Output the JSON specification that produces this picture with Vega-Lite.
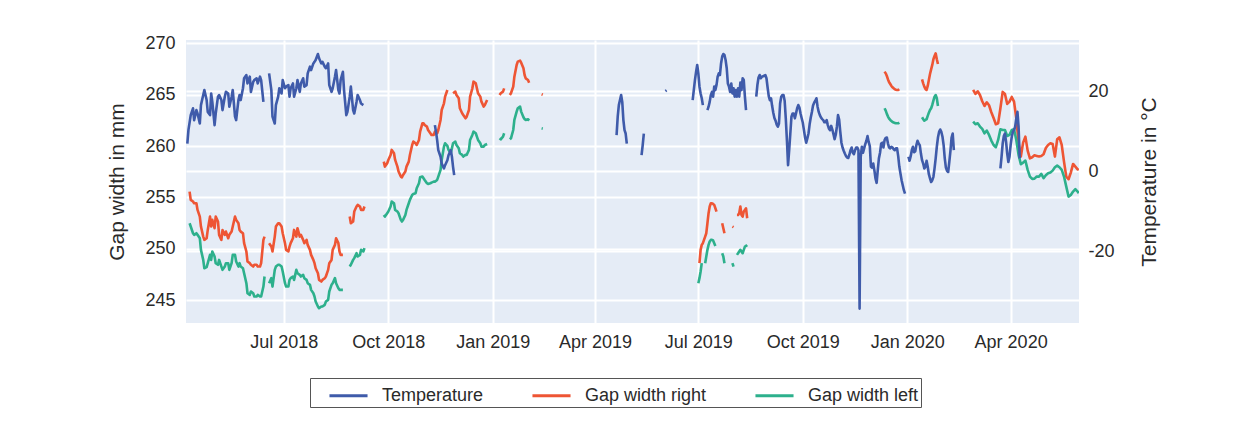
{
  "$schema": "https://vega.github.io/schema/vega-lite/v6.json",
  "width": 893,
  "height": 283,
  "autosize": {"type": "none"},
  "padding": {"left": 186, "top": 40, "right": 171, "bottom": 98},
  "background": "white",
  "config": {
    "view": {"fill": "#E5ECF6", "stroke": null},
    "font": "Liberation Sans",
    "axis": {
      "labelFont": "Liberation Sans", "titleFont": "Liberation Sans",
      "labelFontSize": 18, "titleFontSize": 21, "titleFontWeight": "normal",
      "labelColor": "#2a2a2a", "titleColor": "#2a2a2a",
      "domain": false, "ticks": false, "tickSize": 0,
      "gridColor": "#ffffff", "gridWidth": 2, "gridOpacity": 1
    },
    "legend": {
      "labelFont": "Liberation Sans", "labelFontSize": 18, "labelColor": "#2a2a2a",
      "titleFont": "Liberation Sans", "titleFontSize": 18,
      "strokeColor": "#555555", "padding": 2, "symbolType": "M-1.36,0H1.36",
      "symbolSize": 784, "symbolStrokeWidth": 3, "labelOffset": 18,
      "columnPadding": 42
    }
  },
  "datasets": {
    "temp": [
      {"s":"Temperature","g":1,"d":"2018-04-07","v":6.9},{"s":"Temperature","g":1,"d":"2018-04-08","v":10.3},{"s":"Temperature","g":1,"d":"2018-04-10","v":14.0},{"s":"Temperature","g":1,"d":"2018-04-12","v":15.7},{"s":"Temperature","g":1,"d":"2018-04-13","v":12.75},{"s":"Temperature","g":1,"d":"2018-04-15","v":15.25},{"s":"Temperature","g":1,"d":"2018-04-16","v":14.4},{"s":"Temperature","g":1,"d":"2018-04-18","v":11.9},{"s":"Temperature","g":1,"d":"2018-04-19","v":16.5},{"s":"Temperature","g":1,"d":"2018-04-21","v":19.0},{"s":"Temperature","g":1,"d":"2018-04-22","v":20.25},{"s":"Temperature","g":1,"d":"2018-04-24","v":17.75},{"s":"Temperature","g":1,"d":"2018-04-25","v":14.8},{"s":"Temperature","g":1,"d":"2018-04-27","v":14.0},{"s":"Temperature","g":1,"d":"2018-04-28","v":19.4},{"s":"Temperature","g":1,"d":"2018-04-29","v":17.3},{"s":"Temperature","g":1,"d":"2018-05-01","v":11.5},{"s":"Temperature","g":1,"d":"2018-05-02","v":14.4},{"s":"Temperature","g":1,"d":"2018-05-04","v":18.6},{"s":"Temperature","g":1,"d":"2018-05-05","v":19.0},{"s":"Temperature","g":1,"d":"2018-05-07","v":17.75},{"s":"Temperature","g":1,"d":"2018-05-08","v":15.25},{"s":"Temperature","g":1,"d":"2018-05-10","v":18.6},{"s":"Temperature","g":1,"d":"2018-05-11","v":19.8},{"s":"Temperature","g":1,"d":"2018-05-13","v":19.4},{"s":"Temperature","g":1,"d":"2018-05-14","v":16.1},{"s":"Temperature","g":1,"d":"2018-05-16","v":18.6},{"s":"Temperature","g":1,"d":"2018-05-17","v":20.25},{"s":"Temperature","g":1,"d":"2018-05-19","v":13.6},{"s":"Temperature","g":1,"d":"2018-05-20","v":12.75},{"s":"Temperature","g":1,"d":"2018-05-22","v":17.75},{"s":"Temperature","g":1,"d":"2018-05-23","v":19.0},{"s":"Temperature","g":1,"d":"2018-05-24","v":17.75},{"s":"Temperature","g":1,"d":"2018-05-26","v":20.7},{"s":"Temperature","g":1,"d":"2018-05-27","v":23.2},{"s":"Temperature","g":1,"d":"2018-05-29","v":24.0},{"s":"Temperature","g":1,"d":"2018-05-30","v":21.9},{"s":"Temperature","g":1,"d":"2018-06-01","v":23.6},{"s":"Temperature","g":1,"d":"2018-06-02","v":19.8},{"s":"Temperature","g":1,"d":"2018-06-04","v":22.3},{"s":"Temperature","g":1,"d":"2018-06-05","v":22.75},{"s":"Temperature","g":1,"d":"2018-06-07","v":23.2},{"s":"Temperature","g":1,"d":"2018-06-08","v":21.9},{"s":"Temperature","g":1,"d":"2018-06-10","v":23.6},{"s":"Temperature","g":1,"d":"2018-06-11","v":22.75},{"s":"Temperature","g":1,"d":"2018-06-13","v":17.3},
      {"s":"Temperature","g":2,"d":"2018-06-18","v":24.4},{"s":"Temperature","g":2,"d":"2018-06-20","v":20.25},{"s":"Temperature","g":2,"d":"2018-06-21","v":13.6},{"s":"Temperature","g":2,"d":"2018-06-23","v":11.9},{"s":"Temperature","g":2,"d":"2018-06-24","v":16.5},{"s":"Temperature","g":2,"d":"2018-06-26","v":18.6},{"s":"Temperature","g":2,"d":"2018-06-27","v":20.7},{"s":"Temperature","g":2,"d":"2018-06-29","v":19.4},{"s":"Temperature","g":2,"d":"2018-06-30","v":22.75},{"s":"Temperature","g":2,"d":"2018-07-02","v":20.7},{"s":"Temperature","g":2,"d":"2018-07-03","v":21.1},{"s":"Temperature","g":2,"d":"2018-07-05","v":21.5},{"s":"Temperature","g":2,"d":"2018-07-06","v":18.6},{"s":"Temperature","g":2,"d":"2018-07-07","v":20.7},{"s":"Temperature","g":2,"d":"2018-07-09","v":21.9},{"s":"Temperature","g":2,"d":"2018-07-10","v":18.6},{"s":"Temperature","g":2,"d":"2018-07-12","v":20.7},{"s":"Temperature","g":2,"d":"2018-07-13","v":22.75},{"s":"Temperature","g":2,"d":"2018-07-15","v":19.8},{"s":"Temperature","g":2,"d":"2018-07-16","v":21.9},{"s":"Temperature","g":2,"d":"2018-07-18","v":23.2},{"s":"Temperature","g":2,"d":"2018-07-19","v":21.1},{"s":"Temperature","g":2,"d":"2018-07-21","v":21.5},{"s":"Temperature","g":2,"d":"2018-07-22","v":24.4},{"s":"Temperature","g":2,"d":"2018-07-24","v":26.1},{"s":"Temperature","g":2,"d":"2018-07-25","v":25.25},{"s":"Temperature","g":2,"d":"2018-07-27","v":26.9},{"s":"Temperature","g":2,"d":"2018-07-28","v":27.3},{"s":"Temperature","g":2,"d":"2018-07-29","v":27.75},{"s":"Temperature","g":2,"d":"2018-07-31","v":29.25},{"s":"Temperature","g":2,"d":"2018-08-01","v":28.2},{"s":"Temperature","g":2,"d":"2018-08-03","v":26.9},{"s":"Temperature","g":2,"d":"2018-08-04","v":27.3},{"s":"Temperature","g":2,"d":"2018-08-06","v":26.1},{"s":"Temperature","g":2,"d":"2018-08-07","v":25.7},{"s":"Temperature","g":2,"d":"2018-08-09","v":26.9},{"s":"Temperature","g":2,"d":"2018-08-10","v":21.5},{"s":"Temperature","g":2,"d":"2018-08-12","v":19.8},{"s":"Temperature","g":2,"d":"2018-08-13","v":20.7},{"s":"Temperature","g":2,"d":"2018-08-15","v":23.6},{"s":"Temperature","g":2,"d":"2018-08-16","v":25.25},{"s":"Temperature","g":2,"d":"2018-08-18","v":20.25},{"s":"Temperature","g":2,"d":"2018-08-19","v":19.4},{"s":"Temperature","g":2,"d":"2018-08-20","v":22.75},{"s":"Temperature","g":2,"d":"2018-08-22","v":24.8},{"s":"Temperature","g":2,"d":"2018-08-23","v":20.25},{"s":"Temperature","g":2,"d":"2018-08-25","v":14.0},{"s":"Temperature","g":2,"d":"2018-08-26","v":14.8},{"s":"Temperature","g":2,"d":"2018-08-28","v":18.6},{"s":"Temperature","g":2,"d":"2018-08-29","v":21.1},{"s":"Temperature","g":2,"d":"2018-08-31","v":15.25},{"s":"Temperature","g":2,"d":"2018-09-01","v":14.4},{"s":"Temperature","g":2,"d":"2018-09-03","v":17.3},{"s":"Temperature","g":2,"d":"2018-09-04","v":19.0},{"s":"Temperature","g":2,"d":"2018-09-06","v":17.75},{"s":"Temperature","g":2,"d":"2018-09-07","v":16.9},{"s":"Temperature","g":2,"d":"2018-09-09","v":16.5},
      {"s":"Temperature","g":3,"d":"2018-11-11","v":11.5},{"s":"Temperature","g":3,"d":"2018-11-12","v":9.8},{"s":"Temperature","g":3,"d":"2018-11-13","v":7.75},{"s":"Temperature","g":3,"d":"2018-11-14","v":5.25},{"s":"Temperature","g":3,"d":"2018-11-16","v":3.6},{"s":"Temperature","g":3,"d":"2018-11-17","v":1.9},{"s":"Temperature","g":3,"d":"2018-11-19","v":0.7},{"s":"Temperature","g":3,"d":"2018-11-20","v":1.5},{"s":"Temperature","g":3,"d":"2018-11-22","v":2.75},{"s":"Temperature","g":3,"d":"2018-11-23","v":4.0},{"s":"Temperature","g":3,"d":"2018-11-25","v":5.25},{"s":"Temperature","g":3,"d":"2018-11-26","v":3.6},{"s":"Temperature","g":3,"d":"2018-11-27","v":1.1},{"s":"Temperature","g":3,"d":"2018-11-28","v":-1.0},
      {"s":"Temperature","g":4,"d":"2019-04-20","v":9.0},{"s":"Temperature","g":4,"d":"2019-04-21","v":13.6},{"s":"Temperature","g":4,"d":"2019-04-22","v":16.5},{"s":"Temperature","g":4,"d":"2019-04-23","v":17.75},{"s":"Temperature","g":4,"d":"2019-04-24","v":19.0},{"s":"Temperature","g":4,"d":"2019-04-25","v":17.3},{"s":"Temperature","g":4,"d":"2019-04-26","v":12.75},{"s":"Temperature","g":4,"d":"2019-04-27","v":10.25},{"s":"Temperature","g":4,"d":"2019-04-28","v":9.4},{"s":"Temperature","g":4,"d":"2019-04-29","v":6.9},
      {"s":"Temperature","g":5,"d":"2019-05-12","v":4.0},{"s":"Temperature","g":5,"d":"2019-05-13","v":6.5},{"s":"Temperature","g":5,"d":"2019-05-14","v":9.4},
      {"s":"Temperature","g":6,"d":"2019-06-02","v":20.0},{"s":"Temperature","g":6,"d":"2019-06-03","v":20.2},
      {"s":"Temperature","g":7,"d":"2019-06-26","v":17.75},{"s":"Temperature","g":7,"d":"2019-06-27","v":20.25},{"s":"Temperature","g":7,"d":"2019-06-28","v":22.75},{"s":"Temperature","g":7,"d":"2019-06-29","v":24.8},{"s":"Temperature","g":7,"d":"2019-06-30","v":26.5},{"s":"Temperature","g":7,"d":"2019-07-01","v":24.4},{"s":"Temperature","g":7,"d":"2019-07-02","v":21.1},{"s":"Temperature","g":7,"d":"2019-07-03","v":19.4},{"s":"Temperature","g":7,"d":"2019-07-04","v":18.2},{"s":"Temperature","g":7,"d":"2019-07-05","v":16.5},
      {"s":"Temperature","g":8,"d":"2019-07-09","v":15.25},{"s":"Temperature","g":8,"d":"2019-07-10","v":16.1},{"s":"Temperature","g":8,"d":"2019-07-11","v":17.3},{"s":"Temperature","g":8,"d":"2019-07-12","v":19.0},{"s":"Temperature","g":8,"d":"2019-07-13","v":19.8},{"s":"Temperature","g":8,"d":"2019-07-14","v":18.6},{"s":"Temperature","g":8,"d":"2019-07-15","v":21.1},{"s":"Temperature","g":8,"d":"2019-07-16","v":20.25},{"s":"Temperature","g":8,"d":"2019-07-17","v":21.5},{"s":"Temperature","g":8,"d":"2019-07-18","v":23.6},{"s":"Temperature","g":8,"d":"2019-07-19","v":24.4},{"s":"Temperature","g":8,"d":"2019-07-20","v":24.0},{"s":"Temperature","g":8,"d":"2019-07-21","v":26.9},{"s":"Temperature","g":8,"d":"2019-07-22","v":28.6},{"s":"Temperature","g":8,"d":"2019-07-23","v":29.25},{"s":"Temperature","g":8,"d":"2019-07-24","v":29.0},{"s":"Temperature","g":8,"d":"2019-07-25","v":27.75},{"s":"Temperature","g":8,"d":"2019-07-26","v":25.7},{"s":"Temperature","g":8,"d":"2019-07-27","v":21.9},{"s":"Temperature","g":8,"d":"2019-07-28","v":21.1},{"s":"Temperature","g":8,"d":"2019-07-29","v":19.8},{"s":"Temperature","g":8,"d":"2019-07-30","v":21.9},{"s":"Temperature","g":8,"d":"2019-07-31","v":19.4},{"s":"Temperature","g":8,"d":"2019-08-01","v":20.7},{"s":"Temperature","g":8,"d":"2019-08-02","v":18.6},{"s":"Temperature","g":8,"d":"2019-08-03","v":20.25},{"s":"Temperature","g":8,"d":"2019-08-04","v":18.6},{"s":"Temperature","g":8,"d":"2019-08-05","v":20.7},{"s":"Temperature","g":8,"d":"2019-08-06","v":18.6},{"s":"Temperature","g":8,"d":"2019-08-07","v":22.1},{"s":"Temperature","g":8,"d":"2019-08-08","v":20.25},{"s":"Temperature","g":8,"d":"2019-08-09","v":23.2},{"s":"Temperature","g":8,"d":"2019-08-10","v":22.75},{"s":"Temperature","g":8,"d":"2019-08-11","v":18.6},{"s":"Temperature","g":8,"d":"2019-08-12","v":15.25},
      {"s":"Temperature","g":9,"d":"2019-08-21","v":18.6},{"s":"Temperature","g":9,"d":"2019-08-22","v":21.5},{"s":"Temperature","g":9,"d":"2019-08-23","v":23.4},{"s":"Temperature","g":9,"d":"2019-08-24","v":24.0},{"s":"Temperature","g":9,"d":"2019-08-25","v":23.2},{"s":"Temperature","g":9,"d":"2019-08-26","v":23.6},{"s":"Temperature","g":9,"d":"2019-08-27","v":23.7},{"s":"Temperature","g":9,"d":"2019-08-28","v":23.8},{"s":"Temperature","g":9,"d":"2019-08-29","v":24.0},{"s":"Temperature","g":9,"d":"2019-08-30","v":23.2},{"s":"Temperature","g":9,"d":"2019-08-31","v":20.9},{"s":"Temperature","g":9,"d":"2019-09-01","v":18.75},{"s":"Temperature","g":9,"d":"2019-09-02","v":17.75},{"s":"Temperature","g":9,"d":"2019-09-03","v":18.2},{"s":"Temperature","g":9,"d":"2019-09-04","v":16.25},{"s":"Temperature","g":9,"d":"2019-09-05","v":14.6},{"s":"Temperature","g":9,"d":"2019-09-06","v":13.3},{"s":"Temperature","g":9,"d":"2019-09-07","v":12.6},{"s":"Temperature","g":9,"d":"2019-09-08","v":11.6},{"s":"Temperature","g":9,"d":"2019-09-09","v":11.1},{"s":"Temperature","g":9,"d":"2019-09-10","v":11.9},{"s":"Temperature","g":9,"d":"2019-09-11","v":16.9},{"s":"Temperature","g":9,"d":"2019-09-12","v":18.6},{"s":"Temperature","g":9,"d":"2019-09-13","v":19.0},{"s":"Temperature","g":9,"d":"2019-09-14","v":19.0},{"s":"Temperature","g":9,"d":"2019-09-15","v":17.6},{"s":"Temperature","g":9,"d":"2019-09-16","v":13.2},{"s":"Temperature","g":9,"d":"2019-09-17","v":7.75},{"s":"Temperature","g":9,"d":"2019-09-18","v":1.5},{"s":"Temperature","g":9,"d":"2019-09-19","v":5.25},{"s":"Temperature","g":9,"d":"2019-09-20","v":9.4},{"s":"Temperature","g":9,"d":"2019-09-21","v":13.6},{"s":"Temperature","g":9,"d":"2019-09-22","v":14.4},{"s":"Temperature","g":9,"d":"2019-09-23","v":14.4},{"s":"Temperature","g":9,"d":"2019-09-24","v":13.2},{"s":"Temperature","g":9,"d":"2019-09-25","v":14.4},{"s":"Temperature","g":9,"d":"2019-09-26","v":15.7},{"s":"Temperature","g":9,"d":"2019-09-27","v":16.5},{"s":"Temperature","g":9,"d":"2019-09-28","v":15.9},{"s":"Temperature","g":9,"d":"2019-09-29","v":14.4},{"s":"Temperature","g":9,"d":"2019-09-30","v":13.2},{"s":"Temperature","g":9,"d":"2019-10-01","v":12.1},{"s":"Temperature","g":9,"d":"2019-10-02","v":10.25},{"s":"Temperature","g":9,"d":"2019-10-03","v":8.4},{"s":"Temperature","g":9,"d":"2019-10-04","v":7.1},{"s":"Temperature","g":9,"d":"2019-10-05","v":8.2},{"s":"Temperature","g":9,"d":"2019-10-06","v":9.4},{"s":"Temperature","g":9,"d":"2019-10-07","v":11.7},{"s":"Temperature","g":9,"d":"2019-10-08","v":13.4},{"s":"Temperature","g":9,"d":"2019-10-09","v":14.8},{"s":"Temperature","g":9,"d":"2019-10-10","v":16.4},{"s":"Temperature","g":9,"d":"2019-10-11","v":17.1},{"s":"Temperature","g":9,"d":"2019-10-12","v":17.6},{"s":"Temperature","g":9,"d":"2019-10-13","v":18.2},{"s":"Temperature","g":9,"d":"2019-10-14","v":16.1},{"s":"Temperature","g":9,"d":"2019-10-15","v":14.8},{"s":"Temperature","g":9,"d":"2019-10-16","v":14.0},{"s":"Temperature","g":9,"d":"2019-10-17","v":13.4},{"s":"Temperature","g":9,"d":"2019-10-18","v":13.0},{"s":"Temperature","g":9,"d":"2019-10-19","v":12.75},{"s":"Temperature","g":9,"d":"2019-10-20","v":12.2},{"s":"Temperature","g":9,"d":"2019-10-21","v":12.25},{"s":"Temperature","g":9,"d":"2019-10-22","v":12.75},{"s":"Temperature","g":9,"d":"2019-10-23","v":11.5},{"s":"Temperature","g":9,"d":"2019-10-24","v":10.6},{"s":"Temperature","g":9,"d":"2019-10-25","v":10.25},{"s":"Temperature","g":9,"d":"2019-10-26","v":11.3},{"s":"Temperature","g":9,"d":"2019-10-27","v":10.4},{"s":"Temperature","g":9,"d":"2019-10-28","v":9.25},{"s":"Temperature","g":9,"d":"2019-10-29","v":8.0},{"s":"Temperature","g":9,"d":"2019-10-30","v":9.1},{"s":"Temperature","g":9,"d":"2019-10-31","v":11.1},{"s":"Temperature","g":9,"d":"2019-11-01","v":14.0},{"s":"Temperature","g":9,"d":"2019-11-02","v":12.9},{"s":"Temperature","g":9,"d":"2019-11-03","v":9.8},{"s":"Temperature","g":9,"d":"2019-11-04","v":7.1},{"s":"Temperature","g":9,"d":"2019-11-05","v":5.9},{"s":"Temperature","g":9,"d":"2019-11-06","v":5.1},{"s":"Temperature","g":9,"d":"2019-11-07","v":4.4},{"s":"Temperature","g":9,"d":"2019-11-08","v":3.8},{"s":"Temperature","g":9,"d":"2019-11-09","v":3.4},{"s":"Temperature","g":9,"d":"2019-11-10","v":3.3},{"s":"Temperature","g":9,"d":"2019-11-11","v":4.1},{"s":"Temperature","g":9,"d":"2019-11-12","v":5.25},{"s":"Temperature","g":9,"d":"2019-11-13","v":5.9},{"s":"Temperature","g":9,"d":"2019-11-14","v":4.6},{"s":"Temperature","g":9,"d":"2019-11-15","v":4.25},{"s":"Temperature","g":9,"d":"2019-11-16","v":5.25},{"s":"Temperature","g":9,"d":"2019-11-17","v":5.9},{"s":"Temperature","g":9,"d":"2019-11-18","v":5.9},{"s":"Temperature","g":9,"d":"2019-11-19","v":5.25},{"s":"Temperature","g":9,"d":"2019-11-20","v":-34.3},{"s":"Temperature","g":9,"d":"2019-11-21","v":3.6},{"s":"Temperature","g":9,"d":"2019-11-22","v":6.1},{"s":"Temperature","g":9,"d":"2019-11-23","v":4.6},{"s":"Temperature","g":9,"d":"2019-11-24","v":5.7},{"s":"Temperature","g":9,"d":"2019-11-25","v":6.75},{"s":"Temperature","g":9,"d":"2019-11-26","v":7.6},{"s":"Temperature","g":9,"d":"2019-11-27","v":8.75},{"s":"Temperature","g":9,"d":"2019-11-28","v":7.3},{"s":"Temperature","g":9,"d":"2019-11-29","v":6.25},{"s":"Temperature","g":9,"d":"2019-11-30","v":1.1},{"s":"Temperature","g":9,"d":"2019-12-01","v":0.9},{"s":"Temperature","g":9,"d":"2019-12-02","v":1.9},{"s":"Temperature","g":9,"d":"2019-12-03","v":0.25},{"s":"Temperature","g":9,"d":"2019-12-04","v":-1.8},{"s":"Temperature","g":9,"d":"2019-12-05","v":-2.9},{"s":"Temperature","g":9,"d":"2019-12-06","v":0.25},{"s":"Temperature","g":9,"d":"2019-12-07","v":3.2},{"s":"Temperature","g":9,"d":"2019-12-08","v":4.6},{"s":"Temperature","g":9,"d":"2019-12-09","v":6.9},{"s":"Temperature","g":9,"d":"2019-12-10","v":7.1},{"s":"Temperature","g":9,"d":"2019-12-11","v":5.9},{"s":"Temperature","g":9,"d":"2019-12-12","v":7.75},{"s":"Temperature","g":9,"d":"2019-12-13","v":8.3},{"s":"Temperature","g":9,"d":"2019-12-14","v":8.4},{"s":"Temperature","g":9,"d":"2019-12-15","v":6.9},{"s":"Temperature","g":9,"d":"2019-12-16","v":5.9},{"s":"Temperature","g":9,"d":"2019-12-17","v":5.7},{"s":"Temperature","g":9,"d":"2019-12-18","v":6.1},{"s":"Temperature","g":9,"d":"2019-12-19","v":5.9},{"s":"Temperature","g":9,"d":"2019-12-20","v":5.5},{"s":"Temperature","g":9,"d":"2019-12-21","v":5.25},{"s":"Temperature","g":9,"d":"2019-12-22","v":5.7},{"s":"Temperature","g":9,"d":"2019-12-23","v":5.7},{"s":"Temperature","g":9,"d":"2019-12-24","v":3.75},{"s":"Temperature","g":9,"d":"2019-12-25","v":1.1},{"s":"Temperature","g":9,"d":"2019-12-26","v":-0.6},{"s":"Temperature","g":9,"d":"2019-12-27","v":-2.25},{"s":"Temperature","g":9,"d":"2019-12-28","v":-3.5},{"s":"Temperature","g":9,"d":"2019-12-29","v":-4.75},{"s":"Temperature","g":9,"d":"2019-12-30","v":-5.6},
      {"s":"Temperature","g":10,"d":"2020-01-02","v":3.6},{"s":"Temperature","g":10,"d":"2020-01-03","v":2.6},{"s":"Temperature","g":10,"d":"2020-01-04","v":3.75},{"s":"Temperature","g":10,"d":"2020-01-05","v":5.25},{"s":"Temperature","g":10,"d":"2020-01-06","v":6.1},{"s":"Temperature","g":10,"d":"2020-01-07","v":4.75},{"s":"Temperature","g":10,"d":"2020-01-08","v":5.0},{"s":"Temperature","g":10,"d":"2020-01-09","v":6.5},{"s":"Temperature","g":10,"d":"2020-01-10","v":7.6},{"s":"Temperature","g":10,"d":"2020-01-11","v":6.9},{"s":"Temperature","g":10,"d":"2020-01-12","v":6.5},{"s":"Temperature","g":10,"d":"2020-01-13","v":4.4},{"s":"Temperature","g":10,"d":"2020-01-14","v":2.75},{"s":"Temperature","g":10,"d":"2020-01-15","v":1.9},{"s":"Temperature","g":10,"d":"2020-01-16","v":0.7},{"s":"Temperature","g":10,"d":"2020-01-17","v":1.1},{"s":"Temperature","g":10,"d":"2020-01-18","v":2.6},{"s":"Temperature","g":10,"d":"2020-01-19","v":1.1},{"s":"Temperature","g":10,"d":"2020-01-20","v":-0.75},{"s":"Temperature","g":10,"d":"2020-01-21","v":-1.8},{"s":"Temperature","g":10,"d":"2020-01-22","v":-2.7},{"s":"Temperature","g":10,"d":"2020-01-23","v":-2.25},{"s":"Temperature","g":10,"d":"2020-01-24","v":-1.4},{"s":"Temperature","g":10,"d":"2020-01-25","v":0.7},{"s":"Temperature","g":10,"d":"2020-01-26","v":3.2},{"s":"Temperature","g":10,"d":"2020-01-27","v":6.1},{"s":"Temperature","g":10,"d":"2020-01-28","v":8.4},{"s":"Temperature","g":10,"d":"2020-01-29","v":9.8},{"s":"Temperature","g":10,"d":"2020-01-30","v":10.4},{"s":"Temperature","g":10,"d":"2020-01-31","v":9.8},{"s":"Temperature","g":10,"d":"2020-02-01","v":8.6},{"s":"Temperature","g":10,"d":"2020-02-02","v":6.5},{"s":"Temperature","g":10,"d":"2020-02-03","v":3.2},{"s":"Temperature","g":10,"d":"2020-02-04","v":0.9},{"s":"Temperature","g":10,"d":"2020-02-05","v":0.1},{"s":"Temperature","g":10,"d":"2020-02-06","v":-0.2},{"s":"Temperature","g":10,"d":"2020-02-07","v":2.3},{"s":"Temperature","g":10,"d":"2020-02-08","v":5.1},{"s":"Temperature","g":10,"d":"2020-02-09","v":8.4},{"s":"Temperature","g":10,"d":"2020-02-10","v":9.4},{"s":"Temperature","g":10,"d":"2020-02-11","v":5.25},
      {"s":"Temperature","g":11,"d":"2020-03-23","v":0.7},{"s":"Temperature","g":11,"d":"2020-03-24","v":3.6},{"s":"Temperature","g":11,"d":"2020-03-25","v":6.9},{"s":"Temperature","g":11,"d":"2020-03-26","v":8.75},{"s":"Temperature","g":11,"d":"2020-03-27","v":9.4},{"s":"Temperature","g":11,"d":"2020-03-28","v":7.3},{"s":"Temperature","g":11,"d":"2020-03-29","v":4.4},{"s":"Temperature","g":11,"d":"2020-03-30","v":2.3},{"s":"Temperature","g":11,"d":"2020-03-31","v":3.6},{"s":"Temperature","g":11,"d":"2020-04-01","v":6.5},{"s":"Temperature","g":11,"d":"2020-04-02","v":8.6},{"s":"Temperature","g":11,"d":"2020-04-03","v":9.8},{"s":"Temperature","g":11,"d":"2020-04-04","v":10.25},{"s":"Temperature","g":11,"d":"2020-04-05","v":11.1},{"s":"Temperature","g":11,"d":"2020-04-06","v":13.2},{"s":"Temperature","g":11,"d":"2020-04-07","v":14.8},{"s":"Temperature","g":11,"d":"2020-04-08","v":11.1},{"s":"Temperature","g":11,"d":"2020-04-09","v":3.2}
    ],
    "gap": [
      {"s":"Gap width right","g":1,"d":"2018-04-09","v":255.57},{"s":"Gap width right","g":1,"d":"2018-04-10","v":254.76},{"s":"Gap width right","g":1,"d":"2018-04-12","v":254.6},{"s":"Gap width right","g":1,"d":"2018-04-13","v":254.43},{"s":"Gap width right","g":1,"d":"2018-04-15","v":254.43},{"s":"Gap width right","g":1,"d":"2018-04-16","v":253.78},{"s":"Gap width right","g":1,"d":"2018-04-18","v":253.13},{"s":"Gap width right","g":1,"d":"2018-04-19","v":252.16},{"s":"Gap width right","g":1,"d":"2018-04-21","v":251.18},{"s":"Gap width right","g":1,"d":"2018-04-22","v":250.86},{"s":"Gap width right","g":1,"d":"2018-04-24","v":251.02},{"s":"Gap width right","g":1,"d":"2018-04-25","v":251.83},{"s":"Gap width right","g":1,"d":"2018-04-27","v":253.13},{"s":"Gap width right","g":1,"d":"2018-04-28","v":252.16},{"s":"Gap width right","g":1,"d":"2018-04-29","v":252.81},{"s":"Gap width right","g":1,"d":"2018-05-01","v":252.0},{"s":"Gap width right","g":1,"d":"2018-05-02","v":253.13},{"s":"Gap width right","g":1,"d":"2018-05-04","v":252.65},{"s":"Gap width right","g":1,"d":"2018-05-05","v":251.35},{"s":"Gap width right","g":1,"d":"2018-05-07","v":250.86},{"s":"Gap width right","g":1,"d":"2018-05-08","v":251.83},{"s":"Gap width right","g":1,"d":"2018-05-10","v":251.35},{"s":"Gap width right","g":1,"d":"2018-05-11","v":251.67},{"s":"Gap width right","g":1,"d":"2018-05-13","v":251.02},{"s":"Gap width right","g":1,"d":"2018-05-14","v":251.35},{"s":"Gap width right","g":1,"d":"2018-05-16","v":251.67},{"s":"Gap width right","g":1,"d":"2018-05-17","v":252.16},{"s":"Gap width right","g":1,"d":"2018-05-19","v":253.13},{"s":"Gap width right","g":1,"d":"2018-05-20","v":252.81},{"s":"Gap width right","g":1,"d":"2018-05-22","v":252.48},{"s":"Gap width right","g":1,"d":"2018-05-23","v":251.83},{"s":"Gap width right","g":1,"d":"2018-05-24","v":251.67},{"s":"Gap width right","g":1,"d":"2018-05-26","v":251.51},{"s":"Gap width right","g":1,"d":"2018-05-27","v":250.54},{"s":"Gap width right","g":1,"d":"2018-05-29","v":249.73},{"s":"Gap width right","g":1,"d":"2018-05-30","v":248.75},{"s":"Gap width right","g":1,"d":"2018-06-01","v":248.59},{"s":"Gap width right","g":1,"d":"2018-06-02","v":248.43},{"s":"Gap width right","g":1,"d":"2018-06-04","v":248.26},{"s":"Gap width right","g":1,"d":"2018-06-05","v":248.43},{"s":"Gap width right","g":1,"d":"2018-06-07","v":248.43},{"s":"Gap width right","g":1,"d":"2018-06-08","v":248.26},{"s":"Gap width right","g":1,"d":"2018-06-10","v":248.26},{"s":"Gap width right","g":1,"d":"2018-06-11","v":248.59},{"s":"Gap width right","g":1,"d":"2018-06-13","v":250.86},{"s":"Gap width right","g":1,"d":"2018-06-14","v":251.18},
      {"s":"Gap width right","g":2,"d":"2018-06-18","v":250.54},{"s":"Gap width right","g":2,"d":"2018-06-20","v":250.21},{"s":"Gap width right","g":2,"d":"2018-06-21","v":249.73},{"s":"Gap width right","g":2,"d":"2018-06-23","v":251.18},{"s":"Gap width right","g":2,"d":"2018-06-24","v":252.16},{"s":"Gap width right","g":2,"d":"2018-06-26","v":252.48},{"s":"Gap width right","g":2,"d":"2018-06-27","v":252.48},{"s":"Gap width right","g":2,"d":"2018-06-29","v":252.16},{"s":"Gap width right","g":2,"d":"2018-06-30","v":251.51},{"s":"Gap width right","g":2,"d":"2018-07-02","v":250.54},{"s":"Gap width right","g":2,"d":"2018-07-03","v":249.89},{"s":"Gap width right","g":2,"d":"2018-07-05","v":249.73},{"s":"Gap width right","g":2,"d":"2018-07-06","v":250.21},{"s":"Gap width right","g":2,"d":"2018-07-07","v":250.54},{"s":"Gap width right","g":2,"d":"2018-07-09","v":251.02},{"s":"Gap width right","g":2,"d":"2018-07-10","v":251.83},{"s":"Gap width right","g":2,"d":"2018-07-12","v":251.18},{"s":"Gap width right","g":2,"d":"2018-07-13","v":252.0},{"s":"Gap width right","g":2,"d":"2018-07-15","v":251.18},{"s":"Gap width right","g":2,"d":"2018-07-16","v":251.35},{"s":"Gap width right","g":2,"d":"2018-07-18","v":250.86},{"s":"Gap width right","g":2,"d":"2018-07-19","v":250.54},{"s":"Gap width right","g":2,"d":"2018-07-21","v":250.86},{"s":"Gap width right","g":2,"d":"2018-07-22","v":250.37},{"s":"Gap width right","g":2,"d":"2018-07-24","v":249.89},{"s":"Gap width right","g":2,"d":"2018-07-25","v":249.4},{"s":"Gap width right","g":2,"d":"2018-07-27","v":248.91},{"s":"Gap width right","g":2,"d":"2018-07-28","v":248.59},{"s":"Gap width right","g":2,"d":"2018-07-29","v":248.1},{"s":"Gap width right","g":2,"d":"2018-07-31","v":247.61},{"s":"Gap width right","g":2,"d":"2018-08-01","v":246.96},{"s":"Gap width right","g":2,"d":"2018-08-03","v":246.8},{"s":"Gap width right","g":2,"d":"2018-08-04","v":246.96},{"s":"Gap width right","g":2,"d":"2018-08-06","v":247.13},{"s":"Gap width right","g":2,"d":"2018-08-07","v":247.29},{"s":"Gap width right","g":2,"d":"2018-08-09","v":247.94},{"s":"Gap width right","g":2,"d":"2018-08-10","v":248.59},{"s":"Gap width right","g":2,"d":"2018-08-12","v":248.91},{"s":"Gap width right","g":2,"d":"2018-08-13","v":249.89},{"s":"Gap width right","g":2,"d":"2018-08-15","v":250.37},{"s":"Gap width right","g":2,"d":"2018-08-16","v":251.02},{"s":"Gap width right","g":2,"d":"2018-08-18","v":250.54},{"s":"Gap width right","g":2,"d":"2018-08-19","v":249.73},{"s":"Gap width right","g":2,"d":"2018-08-20","v":249.4},{"s":"Gap width right","g":2,"d":"2018-08-22","v":249.4},
      {"s":"Gap width right","g":3,"d":"2018-08-28","v":253.13},{"s":"Gap width right","g":3,"d":"2018-08-29","v":252.48},{"s":"Gap width right","g":3,"d":"2018-08-31","v":252.65},{"s":"Gap width right","g":3,"d":"2018-09-01","v":253.62},{"s":"Gap width right","g":3,"d":"2018-09-03","v":254.11},{"s":"Gap width right","g":3,"d":"2018-09-04","v":254.27},{"s":"Gap width right","g":3,"d":"2018-09-06","v":254.11},{"s":"Gap width right","g":3,"d":"2018-09-07","v":253.78},{"s":"Gap width right","g":3,"d":"2018-09-09","v":253.78},{"s":"Gap width right","g":3,"d":"2018-09-10","v":254.11},
      {"s":"Gap width right","g":4,"d":"2018-09-27","v":258.49},{"s":"Gap width right","g":4,"d":"2018-09-28","v":258.0},{"s":"Gap width right","g":4,"d":"2018-09-30","v":258.33},{"s":"Gap width right","g":4,"d":"2018-10-01","v":258.65},{"s":"Gap width right","g":4,"d":"2018-10-03","v":259.14},{"s":"Gap width right","g":4,"d":"2018-10-04","v":259.63},{"s":"Gap width right","g":4,"d":"2018-10-06","v":259.3},{"s":"Gap width right","g":4,"d":"2018-10-07","v":258.65},{"s":"Gap width right","g":4,"d":"2018-10-09","v":258.0},{"s":"Gap width right","g":4,"d":"2018-10-10","v":257.52},{"s":"Gap width right","g":4,"d":"2018-10-12","v":257.03},{"s":"Gap width right","g":4,"d":"2018-10-13","v":256.96},{"s":"Gap width right","g":4,"d":"2018-10-14","v":257.19},{"s":"Gap width right","g":4,"d":"2018-10-16","v":257.52},{"s":"Gap width right","g":4,"d":"2018-10-17","v":258.0},{"s":"Gap width right","g":4,"d":"2018-10-19","v":258.49},{"s":"Gap width right","g":4,"d":"2018-10-20","v":259.14},{"s":"Gap width right","g":4,"d":"2018-10-22","v":260.11},{"s":"Gap width right","g":4,"d":"2018-10-23","v":260.44},{"s":"Gap width right","g":4,"d":"2018-10-25","v":260.28},{"s":"Gap width right","g":4,"d":"2018-10-26","v":260.11},{"s":"Gap width right","g":4,"d":"2018-10-28","v":260.6},{"s":"Gap width right","g":4,"d":"2018-10-29","v":261.41},{"s":"Gap width right","g":4,"d":"2018-10-31","v":262.22},{"s":"Gap width right","g":4,"d":"2018-11-01","v":262.22},{"s":"Gap width right","g":4,"d":"2018-11-02","v":262.06},{"s":"Gap width right","g":4,"d":"2018-11-04","v":261.9},{"s":"Gap width right","g":4,"d":"2018-11-05","v":261.57},{"s":"Gap width right","g":4,"d":"2018-11-07","v":261.25},{"s":"Gap width right","g":4,"d":"2018-11-08","v":261.09},{"s":"Gap width right","g":4,"d":"2018-11-10","v":261.09},{"s":"Gap width right","g":4,"d":"2018-11-11","v":261.41},{"s":"Gap width right","g":4,"d":"2018-11-13","v":261.25},{"s":"Gap width right","g":4,"d":"2018-11-14","v":261.57},{"s":"Gap width right","g":4,"d":"2018-11-16","v":262.55},{"s":"Gap width right","g":4,"d":"2018-11-17","v":263.52},{"s":"Gap width right","g":4,"d":"2018-11-19","v":264.17},{"s":"Gap width right","g":4,"d":"2018-11-20","v":264.82},{"s":"Gap width right","g":4,"d":"2018-11-22","v":265.47},
      {"s":"Gap width right","g":5,"d":"2018-11-27","v":265.15},{"s":"Gap width right","g":5,"d":"2018-11-29","v":265.31},{"s":"Gap width right","g":5,"d":"2018-11-30","v":264.98},{"s":"Gap width right","g":5,"d":"2018-12-02","v":264.66},{"s":"Gap width right","g":5,"d":"2018-12-03","v":263.69},{"s":"Gap width right","g":5,"d":"2018-12-05","v":263.2},{"s":"Gap width right","g":5,"d":"2018-12-06","v":263.04},{"s":"Gap width right","g":5,"d":"2018-12-08","v":262.71},{"s":"Gap width right","g":5,"d":"2018-12-09","v":262.87},{"s":"Gap width right","g":5,"d":"2018-12-11","v":263.52},{"s":"Gap width right","g":5,"d":"2018-12-12","v":264.82},{"s":"Gap width right","g":5,"d":"2018-12-14","v":265.63},{"s":"Gap width right","g":5,"d":"2018-12-15","v":266.28},{"s":"Gap width right","g":5,"d":"2018-12-17","v":266.12},{"s":"Gap width right","g":5,"d":"2018-12-18","v":265.63},{"s":"Gap width right","g":5,"d":"2018-12-19","v":265.15},{"s":"Gap width right","g":5,"d":"2018-12-21","v":264.82},{"s":"Gap width right","g":5,"d":"2018-12-22","v":264.33},{"s":"Gap width right","g":5,"d":"2018-12-24","v":263.85},{"s":"Gap width right","g":5,"d":"2018-12-25","v":264.0},{"s":"Gap width right","g":5,"d":"2018-12-27","v":264.5},
      {"s":"Gap width right","g":6,"d":"2019-01-07","v":264.98},{"s":"Gap width right","g":6,"d":"2019-01-08","v":265.15},{"s":"Gap width right","g":6,"d":"2019-01-10","v":265.31},{"s":"Gap width right","g":6,"d":"2019-01-11","v":265.63},
      {"s":"Gap width right","g":7,"d":"2019-01-16","v":264.98},{"s":"Gap width right","g":7,"d":"2019-01-17","v":265.15},{"s":"Gap width right","g":7,"d":"2019-01-19","v":265.8},{"s":"Gap width right","g":7,"d":"2019-01-20","v":266.77},{"s":"Gap width right","g":7,"d":"2019-01-22","v":267.9},{"s":"Gap width right","g":7,"d":"2019-01-23","v":268.23},{"s":"Gap width right","g":7,"d":"2019-01-25","v":268.33},{"s":"Gap width right","g":7,"d":"2019-01-26","v":268.13},{"s":"Gap width right","g":7,"d":"2019-01-28","v":267.58},{"s":"Gap width right","g":7,"d":"2019-01-29","v":266.93},{"s":"Gap width right","g":7,"d":"2019-01-30","v":266.6},{"s":"Gap width right","g":7,"d":"2019-02-01","v":266.44},{"s":"Gap width right","g":7,"d":"2019-02-02","v":266.18},
      {"s":"Gap width right","g":8,"d":"2019-02-13","v":265.05},{"s":"Gap width right","g":8,"d":"2019-02-14","v":265.0},
      {"s":"Gap width right","g":9,"d":"2019-07-02","v":248.59},{"s":"Gap width right","g":9,"d":"2019-07-03","v":249.89},{"s":"Gap width right","g":9,"d":"2019-07-04","v":250.37},{"s":"Gap width right","g":9,"d":"2019-07-05","v":250.54},{"s":"Gap width right","g":9,"d":"2019-07-06","v":250.86},{"s":"Gap width right","g":9,"d":"2019-07-07","v":251.18},{"s":"Gap width right","g":9,"d":"2019-07-08","v":251.51},{"s":"Gap width right","g":9,"d":"2019-07-09","v":252.48},{"s":"Gap width right","g":9,"d":"2019-07-10","v":253.46},{"s":"Gap width right","g":9,"d":"2019-07-11","v":254.11},{"s":"Gap width right","g":9,"d":"2019-07-12","v":254.43},{"s":"Gap width right","g":9,"d":"2019-07-13","v":254.43},{"s":"Gap width right","g":9,"d":"2019-07-14","v":254.36},{"s":"Gap width right","g":9,"d":"2019-07-15","v":254.27},{"s":"Gap width right","g":9,"d":"2019-07-16","v":253.94},{"s":"Gap width right","g":9,"d":"2019-07-17","v":253.62},
      {"s":"Gap width right","g":10,"d":"2019-07-22","v":252.48},{"s":"Gap width right","g":10,"d":"2019-07-23","v":252.0},{"s":"Gap width right","g":10,"d":"2019-07-24","v":251.51},
      {"s":"Gap width right","g":11,"d":"2019-07-31","v":252.16},{"s":"Gap width right","g":11,"d":"2019-08-01","v":252.1},
      {"s":"Gap width right","g":12,"d":"2019-08-04","v":253.29},{"s":"Gap width right","g":12,"d":"2019-08-05","v":253.29},{"s":"Gap width right","g":12,"d":"2019-08-06","v":253.46},{"s":"Gap width right","g":12,"d":"2019-08-07","v":254.11},{"s":"Gap width right","g":12,"d":"2019-08-08","v":253.29},{"s":"Gap width right","g":12,"d":"2019-08-09","v":253.13},{"s":"Gap width right","g":12,"d":"2019-08-10","v":253.62},{"s":"Gap width right","g":12,"d":"2019-08-11","v":253.78},{"s":"Gap width right","g":12,"d":"2019-08-12","v":253.94},{"s":"Gap width right","g":12,"d":"2019-08-13","v":252.97},
      {"s":"Gap width right","g":13,"d":"2019-12-12","v":267.26},{"s":"Gap width right","g":13,"d":"2019-12-13","v":267.09},{"s":"Gap width right","g":13,"d":"2019-12-14","v":266.83},{"s":"Gap width right","g":13,"d":"2019-12-15","v":266.5},{"s":"Gap width right","g":13,"d":"2019-12-16","v":266.22},{"s":"Gap width right","g":13,"d":"2019-12-17","v":266.05},{"s":"Gap width right","g":13,"d":"2019-12-18","v":265.86},{"s":"Gap width right","g":13,"d":"2019-12-19","v":265.73},{"s":"Gap width right","g":13,"d":"2019-12-20","v":265.63},{"s":"Gap width right","g":13,"d":"2019-12-21","v":265.54},{"s":"Gap width right","g":13,"d":"2019-12-22","v":265.5},{"s":"Gap width right","g":13,"d":"2019-12-23","v":265.47},{"s":"Gap width right","g":13,"d":"2019-12-24","v":265.47},{"s":"Gap width right","g":13,"d":"2019-12-25","v":265.54},
      {"s":"Gap width right","g":14,"d":"2020-01-14","v":266.5},{"s":"Gap width right","g":14,"d":"2020-01-15","v":266.12},{"s":"Gap width right","g":14,"d":"2020-01-16","v":265.8},{"s":"Gap width right","g":14,"d":"2020-01-17","v":265.57},{"s":"Gap width right","g":14,"d":"2020-01-18","v":265.47},{"s":"Gap width right","g":14,"d":"2020-01-19","v":265.86},{"s":"Gap width right","g":14,"d":"2020-01-20","v":266.44},{"s":"Gap width right","g":14,"d":"2020-01-21","v":267.03},{"s":"Gap width right","g":14,"d":"2020-01-22","v":267.48},{"s":"Gap width right","g":14,"d":"2020-01-23","v":267.91},{"s":"Gap width right","g":14,"d":"2020-01-24","v":268.46},{"s":"Gap width right","g":14,"d":"2020-01-25","v":268.78},{"s":"Gap width right","g":14,"d":"2020-01-26","v":269.04},{"s":"Gap width right","g":14,"d":"2020-01-27","v":268.46},{"s":"Gap width right","g":14,"d":"2020-01-28","v":268.0},
      {"s":"Gap width right","g":15,"d":"2020-02-28","v":265.47},{"s":"Gap width right","g":15,"d":"2020-03-01","v":265.08},{"s":"Gap width right","g":15,"d":"2020-03-03","v":265.34},{"s":"Gap width right","g":15,"d":"2020-03-05","v":264.98},{"s":"Gap width right","g":15,"d":"2020-03-07","v":264.37},{"s":"Gap width right","g":15,"d":"2020-03-09","v":263.91},{"s":"Gap width right","g":15,"d":"2020-03-11","v":264.27},{"s":"Gap width right","g":15,"d":"2020-03-13","v":263.98},{"s":"Gap width right","g":15,"d":"2020-03-15","v":263.3},{"s":"Gap width right","g":15,"d":"2020-03-17","v":262.74},{"s":"Gap width right","g":15,"d":"2020-03-19","v":262.13},{"s":"Gap width right","g":15,"d":"2020-03-21","v":262.22},{"s":"Gap width right","g":15,"d":"2020-03-23","v":263.69},{"s":"Gap width right","g":15,"d":"2020-03-25","v":265.28},{"s":"Gap width right","g":15,"d":"2020-03-27","v":265.08},{"s":"Gap width right","g":15,"d":"2020-03-29","v":264.11},{"s":"Gap width right","g":15,"d":"2020-03-31","v":264.33},{"s":"Gap width right","g":15,"d":"2020-04-02","v":264.79},{"s":"Gap width right","g":15,"d":"2020-04-04","v":264.33},{"s":"Gap width right","g":15,"d":"2020-04-06","v":262.71},{"s":"Gap width right","g":15,"d":"2020-04-08","v":260.28},{"s":"Gap width right","g":15,"d":"2020-04-10","v":258.98},{"s":"Gap width right","g":15,"d":"2020-04-12","v":260.34},{"s":"Gap width right","g":15,"d":"2020-04-14","v":260.92},{"s":"Gap width right","g":15,"d":"2020-04-16","v":259.56},{"s":"Gap width right","g":15,"d":"2020-04-18","v":258.81},{"s":"Gap width right","g":15,"d":"2020-04-20","v":258.91},{"s":"Gap width right","g":15,"d":"2020-04-22","v":259.1},{"s":"Gap width right","g":15,"d":"2020-04-24","v":259.04},{"s":"Gap width right","g":15,"d":"2020-04-26","v":258.98},{"s":"Gap width right","g":15,"d":"2020-04-28","v":259.04},{"s":"Gap width right","g":15,"d":"2020-04-30","v":259.2},{"s":"Gap width right","g":15,"d":"2020-05-02","v":259.82},{"s":"Gap width right","g":15,"d":"2020-05-04","v":260.11},{"s":"Gap width right","g":15,"d":"2020-05-06","v":260.28},{"s":"Gap width right","g":15,"d":"2020-05-08","v":260.21},{"s":"Gap width right","g":15,"d":"2020-05-10","v":258.98},{"s":"Gap width right","g":15,"d":"2020-05-12","v":260.67},{"s":"Gap width right","g":15,"d":"2020-05-14","v":260.86},{"s":"Gap width right","g":15,"d":"2020-05-16","v":260.11},{"s":"Gap width right","g":15,"d":"2020-05-18","v":258.49},{"s":"Gap width right","g":15,"d":"2020-05-20","v":257.03},{"s":"Gap width right","g":15,"d":"2020-05-22","v":256.77},{"s":"Gap width right","g":15,"d":"2020-05-24","v":257.42},{"s":"Gap width right","g":15,"d":"2020-05-26","v":258.26},{"s":"Gap width right","g":15,"d":"2020-05-28","v":258.0},{"s":"Gap width right","g":15,"d":"2020-05-30","v":257.74},{"s":"Gap width right","g":15,"d":"2020-05-31","v":257.68},
      {"s":"Gap width left","g":1,"d":"2018-04-09","v":252.48},{"s":"Gap width left","g":1,"d":"2018-04-10","v":252.16},{"s":"Gap width left","g":1,"d":"2018-04-12","v":251.51},{"s":"Gap width left","g":1,"d":"2018-04-13","v":251.35},{"s":"Gap width left","g":1,"d":"2018-04-15","v":251.51},{"s":"Gap width left","g":1,"d":"2018-04-16","v":251.35},{"s":"Gap width left","g":1,"d":"2018-04-18","v":251.02},{"s":"Gap width left","g":1,"d":"2018-04-19","v":249.89},{"s":"Gap width left","g":1,"d":"2018-04-21","v":248.91},{"s":"Gap width left","g":1,"d":"2018-04-22","v":248.1},{"s":"Gap width left","g":1,"d":"2018-04-24","v":248.2},{"s":"Gap width left","g":1,"d":"2018-04-25","v":248.59},{"s":"Gap width left","g":1,"d":"2018-04-27","v":249.4},{"s":"Gap width left","g":1,"d":"2018-04-28","v":248.91},{"s":"Gap width left","g":1,"d":"2018-04-29","v":249.73},{"s":"Gap width left","g":1,"d":"2018-05-01","v":249.24},{"s":"Gap width left","g":1,"d":"2018-05-02","v":248.59},{"s":"Gap width left","g":1,"d":"2018-05-04","v":248.43},{"s":"Gap width left","g":1,"d":"2018-05-05","v":248.91},{"s":"Gap width left","g":1,"d":"2018-05-07","v":248.26},{"s":"Gap width left","g":1,"d":"2018-05-08","v":247.94},{"s":"Gap width left","g":1,"d":"2018-05-10","v":248.26},{"s":"Gap width left","g":1,"d":"2018-05-11","v":248.59},{"s":"Gap width left","g":1,"d":"2018-05-13","v":248.59},{"s":"Gap width left","g":1,"d":"2018-05-14","v":247.94},{"s":"Gap width left","g":1,"d":"2018-05-16","v":248.59},{"s":"Gap width left","g":1,"d":"2018-05-17","v":249.4},{"s":"Gap width left","g":1,"d":"2018-05-19","v":249.4},{"s":"Gap width left","g":1,"d":"2018-05-20","v":248.75},{"s":"Gap width left","g":1,"d":"2018-05-22","v":248.26},{"s":"Gap width left","g":1,"d":"2018-05-23","v":248.59},{"s":"Gap width left","g":1,"d":"2018-05-24","v":248.26},{"s":"Gap width left","g":1,"d":"2018-05-26","v":248.1},{"s":"Gap width left","g":1,"d":"2018-05-27","v":247.61},{"s":"Gap width left","g":1,"d":"2018-05-29","v":246.64},{"s":"Gap width left","g":1,"d":"2018-05-30","v":245.66},{"s":"Gap width left","g":1,"d":"2018-06-01","v":245.5},{"s":"Gap width left","g":1,"d":"2018-06-02","v":245.83},{"s":"Gap width left","g":1,"d":"2018-06-04","v":245.66},{"s":"Gap width left","g":1,"d":"2018-06-05","v":245.34},{"s":"Gap width left","g":1,"d":"2018-06-07","v":245.34},{"s":"Gap width left","g":1,"d":"2018-06-08","v":245.5},{"s":"Gap width left","g":1,"d":"2018-06-10","v":245.34},{"s":"Gap width left","g":1,"d":"2018-06-11","v":245.34},{"s":"Gap width left","g":1,"d":"2018-06-13","v":246.31},{"s":"Gap width left","g":1,"d":"2018-06-14","v":247.29},
      {"s":"Gap width left","g":2,"d":"2018-06-18","v":246.64},{"s":"Gap width left","g":2,"d":"2018-06-20","v":247.13},{"s":"Gap width left","g":2,"d":"2018-06-21","v":246.31},{"s":"Gap width left","g":2,"d":"2018-06-23","v":247.94},{"s":"Gap width left","g":2,"d":"2018-06-24","v":248.26},{"s":"Gap width left","g":2,"d":"2018-06-26","v":248.43},{"s":"Gap width left","g":2,"d":"2018-06-27","v":248.43},{"s":"Gap width left","g":2,"d":"2018-06-29","v":248.26},{"s":"Gap width left","g":2,"d":"2018-06-30","v":247.78},{"s":"Gap width left","g":2,"d":"2018-07-02","v":246.64},{"s":"Gap width left","g":2,"d":"2018-07-03","v":246.31},{"s":"Gap width left","g":2,"d":"2018-07-05","v":246.31},{"s":"Gap width left","g":2,"d":"2018-07-06","v":246.96},{"s":"Gap width left","g":2,"d":"2018-07-07","v":247.13},{"s":"Gap width left","g":2,"d":"2018-07-09","v":247.29},{"s":"Gap width left","g":2,"d":"2018-07-10","v":246.96},{"s":"Gap width left","g":2,"d":"2018-07-12","v":247.94},{"s":"Gap width left","g":2,"d":"2018-07-13","v":247.61},{"s":"Gap width left","g":2,"d":"2018-07-15","v":247.45},{"s":"Gap width left","g":2,"d":"2018-07-16","v":247.29},{"s":"Gap width left","g":2,"d":"2018-07-18","v":247.45},{"s":"Gap width left","g":2,"d":"2018-07-19","v":247.13},{"s":"Gap width left","g":2,"d":"2018-07-21","v":246.96},{"s":"Gap width left","g":2,"d":"2018-07-22","v":246.64},{"s":"Gap width left","g":2,"d":"2018-07-24","v":246.48},{"s":"Gap width left","g":2,"d":"2018-07-25","v":245.99},{"s":"Gap width left","g":2,"d":"2018-07-27","v":245.66},{"s":"Gap width left","g":2,"d":"2018-07-28","v":245.34},{"s":"Gap width left","g":2,"d":"2018-07-29","v":244.85},{"s":"Gap width left","g":2,"d":"2018-07-31","v":244.37},{"s":"Gap width left","g":2,"d":"2018-08-01","v":244.2},{"s":"Gap width left","g":2,"d":"2018-08-03","v":244.37},{"s":"Gap width left","g":2,"d":"2018-08-04","v":244.37},{"s":"Gap width left","g":2,"d":"2018-08-06","v":244.53},{"s":"Gap width left","g":2,"d":"2018-08-07","v":244.85},{"s":"Gap width left","g":2,"d":"2018-08-09","v":245.01},{"s":"Gap width left","g":2,"d":"2018-08-10","v":245.83},{"s":"Gap width left","g":2,"d":"2018-08-12","v":246.48},{"s":"Gap width left","g":2,"d":"2018-08-13","v":246.64},{"s":"Gap width left","g":2,"d":"2018-08-15","v":247.13},{"s":"Gap width left","g":2,"d":"2018-08-16","v":246.64},{"s":"Gap width left","g":2,"d":"2018-08-18","v":246.15},{"s":"Gap width left","g":2,"d":"2018-08-19","v":245.99},{"s":"Gap width left","g":2,"d":"2018-08-20","v":245.99},{"s":"Gap width left","g":2,"d":"2018-08-22","v":245.99},
      {"s":"Gap width left","g":3,"d":"2018-08-28","v":248.26},{"s":"Gap width left","g":3,"d":"2018-08-29","v":248.43},{"s":"Gap width left","g":3,"d":"2018-08-31","v":248.91},{"s":"Gap width left","g":3,"d":"2018-09-01","v":249.08},{"s":"Gap width left","g":3,"d":"2018-09-03","v":249.56},{"s":"Gap width left","g":3,"d":"2018-09-04","v":249.24},{"s":"Gap width left","g":3,"d":"2018-09-06","v":249.4},{"s":"Gap width left","g":3,"d":"2018-09-07","v":249.89},{"s":"Gap width left","g":3,"d":"2018-09-09","v":249.73},{"s":"Gap width left","g":3,"d":"2018-09-10","v":250.05},
      {"s":"Gap width left","g":4,"d":"2018-09-27","v":253.29},{"s":"Gap width left","g":4,"d":"2018-09-28","v":253.13},{"s":"Gap width left","g":4,"d":"2018-09-30","v":253.46},{"s":"Gap width left","g":4,"d":"2018-10-01","v":253.62},{"s":"Gap width left","g":4,"d":"2018-10-03","v":254.11},{"s":"Gap width left","g":4,"d":"2018-10-04","v":254.59},{"s":"Gap width left","g":4,"d":"2018-10-06","v":254.43},{"s":"Gap width left","g":4,"d":"2018-10-07","v":253.78},{"s":"Gap width left","g":4,"d":"2018-10-09","v":253.62},{"s":"Gap width left","g":4,"d":"2018-10-10","v":253.46},{"s":"Gap width left","g":4,"d":"2018-10-12","v":252.81},{"s":"Gap width left","g":4,"d":"2018-10-13","v":252.65},{"s":"Gap width left","g":4,"d":"2018-10-14","v":252.81},{"s":"Gap width left","g":4,"d":"2018-10-16","v":253.29},{"s":"Gap width left","g":4,"d":"2018-10-17","v":253.78},{"s":"Gap width left","g":4,"d":"2018-10-19","v":254.43},{"s":"Gap width left","g":4,"d":"2018-10-20","v":254.76},{"s":"Gap width left","g":4,"d":"2018-10-22","v":255.24},{"s":"Gap width left","g":4,"d":"2018-10-23","v":255.34},{"s":"Gap width left","g":4,"d":"2018-10-25","v":255.41},{"s":"Gap width left","g":4,"d":"2018-10-26","v":255.89},{"s":"Gap width left","g":4,"d":"2018-10-28","v":256.38},{"s":"Gap width left","g":4,"d":"2018-10-29","v":256.96},{"s":"Gap width left","g":4,"d":"2018-10-31","v":257.03},{"s":"Gap width left","g":4,"d":"2018-11-01","v":256.87},{"s":"Gap width left","g":4,"d":"2018-11-02","v":256.7},{"s":"Gap width left","g":4,"d":"2018-11-04","v":256.38},{"s":"Gap width left","g":4,"d":"2018-11-05","v":256.31},{"s":"Gap width left","g":4,"d":"2018-11-07","v":256.38},{"s":"Gap width left","g":4,"d":"2018-11-08","v":256.44},{"s":"Gap width left","g":4,"d":"2018-11-10","v":256.54},{"s":"Gap width left","g":4,"d":"2018-11-11","v":256.54},{"s":"Gap width left","g":4,"d":"2018-11-13","v":256.7},{"s":"Gap width left","g":4,"d":"2018-11-14","v":257.03},{"s":"Gap width left","g":4,"d":"2018-11-16","v":257.68},{"s":"Gap width left","g":4,"d":"2018-11-17","v":258.65},{"s":"Gap width left","g":4,"d":"2018-11-19","v":259.95},{"s":"Gap width left","g":4,"d":"2018-11-20","v":260.28},{"s":"Gap width left","g":4,"d":"2018-11-22","v":260.02},{"s":"Gap width left","g":4,"d":"2018-11-23","v":259.63},{"s":"Gap width left","g":4,"d":"2018-11-25","v":259.3},{"s":"Gap width left","g":4,"d":"2018-11-27","v":260.28},{"s":"Gap width left","g":4,"d":"2018-11-29","v":260.44},{"s":"Gap width left","g":4,"d":"2018-11-30","v":260.11},{"s":"Gap width left","g":4,"d":"2018-12-02","v":259.79},{"s":"Gap width left","g":4,"d":"2018-12-03","v":259.3},{"s":"Gap width left","g":4,"d":"2018-12-05","v":259.14},{"s":"Gap width left","g":4,"d":"2018-12-06","v":258.98},{"s":"Gap width left","g":4,"d":"2018-12-08","v":259.14},{"s":"Gap width left","g":4,"d":"2018-12-09","v":259.14},{"s":"Gap width left","g":4,"d":"2018-12-11","v":259.63},{"s":"Gap width left","g":4,"d":"2018-12-12","v":260.6},{"s":"Gap width left","g":4,"d":"2018-12-14","v":261.09},{"s":"Gap width left","g":4,"d":"2018-12-15","v":261.41},{"s":"Gap width left","g":4,"d":"2018-12-17","v":261.25},{"s":"Gap width left","g":4,"d":"2018-12-18","v":260.92},{"s":"Gap width left","g":4,"d":"2018-12-19","v":260.6},{"s":"Gap width left","g":4,"d":"2018-12-21","v":260.28},{"s":"Gap width left","g":4,"d":"2018-12-22","v":259.95},{"s":"Gap width left","g":4,"d":"2018-12-24","v":259.95},{"s":"Gap width left","g":4,"d":"2018-12-25","v":260.11},{"s":"Gap width left","g":4,"d":"2018-12-27","v":260.21},
      {"s":"Gap width left","g":5,"d":"2019-01-07","v":260.76},{"s":"Gap width left","g":5,"d":"2019-01-08","v":260.66},{"s":"Gap width left","g":5,"d":"2019-01-10","v":260.92},{"s":"Gap width left","g":5,"d":"2019-01-11","v":261.25},
      {"s":"Gap width left","g":6,"d":"2019-01-16","v":260.66},{"s":"Gap width left","g":6,"d":"2019-01-17","v":260.76},{"s":"Gap width left","g":6,"d":"2019-01-19","v":261.57},{"s":"Gap width left","g":6,"d":"2019-01-20","v":262.55},{"s":"Gap width left","g":6,"d":"2019-01-22","v":263.36},{"s":"Gap width left","g":6,"d":"2019-01-23","v":263.69},{"s":"Gap width left","g":6,"d":"2019-01-25","v":263.85},{"s":"Gap width left","g":6,"d":"2019-01-26","v":263.36},{"s":"Gap width left","g":6,"d":"2019-01-28","v":262.81},{"s":"Gap width left","g":6,"d":"2019-01-29","v":262.62},{"s":"Gap width left","g":6,"d":"2019-01-30","v":262.55},{"s":"Gap width left","g":6,"d":"2019-02-01","v":262.62},{"s":"Gap width left","g":6,"d":"2019-02-02","v":262.49},
      {"s":"Gap width left","g":7,"d":"2019-02-13","v":261.73},{"s":"Gap width left","g":7,"d":"2019-02-14","v":261.7},
      {"s":"Gap width left","g":8,"d":"2019-07-01","v":246.64},{"s":"Gap width left","g":8,"d":"2019-07-02","v":247.13},{"s":"Gap width left","g":8,"d":"2019-07-03","v":247.78},{"s":"Gap width left","g":8,"d":"2019-07-04","v":248.59},
      {"s":"Gap width left","g":9,"d":"2019-07-07","v":248.59},{"s":"Gap width left","g":9,"d":"2019-07-08","v":249.24},{"s":"Gap width left","g":9,"d":"2019-07-09","v":249.89},{"s":"Gap width left","g":9,"d":"2019-07-10","v":250.37},{"s":"Gap width left","g":9,"d":"2019-07-11","v":250.7},{"s":"Gap width left","g":9,"d":"2019-07-12","v":250.86},{"s":"Gap width left","g":9,"d":"2019-07-13","v":250.86},{"s":"Gap width left","g":9,"d":"2019-07-14","v":250.8},{"s":"Gap width left","g":9,"d":"2019-07-15","v":250.54},{"s":"Gap width left","g":9,"d":"2019-07-16","v":250.27},
      {"s":"Gap width left","g":10,"d":"2019-07-22","v":249.56},{"s":"Gap width left","g":10,"d":"2019-07-23","v":249.24},{"s":"Gap width left","g":10,"d":"2019-07-24","v":248.59},
      {"s":"Gap width left","g":11,"d":"2019-07-31","v":248.59},{"s":"Gap width left","g":11,"d":"2019-08-01","v":248.26},
      {"s":"Gap width left","g":12,"d":"2019-08-04","v":249.4},{"s":"Gap width left","g":12,"d":"2019-08-05","v":249.56},{"s":"Gap width left","g":12,"d":"2019-08-06","v":249.73},{"s":"Gap width left","g":12,"d":"2019-08-07","v":249.89},{"s":"Gap width left","g":12,"d":"2019-08-08","v":249.73},{"s":"Gap width left","g":12,"d":"2019-08-09","v":249.56},{"s":"Gap width left","g":12,"d":"2019-08-10","v":249.89},{"s":"Gap width left","g":12,"d":"2019-08-11","v":250.21},{"s":"Gap width left","g":12,"d":"2019-08-12","v":250.27},{"s":"Gap width left","g":12,"d":"2019-08-13","v":250.37},
      {"s":"Gap width left","g":13,"d":"2019-12-12","v":263.69},{"s":"Gap width left","g":13,"d":"2019-12-13","v":263.46},{"s":"Gap width left","g":13,"d":"2019-12-14","v":263.14},{"s":"Gap width left","g":13,"d":"2019-12-15","v":262.88},{"s":"Gap width left","g":13,"d":"2019-12-16","v":262.68},{"s":"Gap width left","g":13,"d":"2019-12-17","v":262.55},{"s":"Gap width left","g":13,"d":"2019-12-18","v":262.45},{"s":"Gap width left","g":13,"d":"2019-12-19","v":262.36},{"s":"Gap width left","g":13,"d":"2019-12-20","v":262.29},{"s":"Gap width left","g":13,"d":"2019-12-21","v":262.26},{"s":"Gap width left","g":13,"d":"2019-12-22","v":262.22},{"s":"Gap width left","g":13,"d":"2019-12-23","v":262.22},{"s":"Gap width left","g":13,"d":"2019-12-24","v":262.22},{"s":"Gap width left","g":13,"d":"2019-12-25","v":262.29},
      {"s":"Gap width left","g":14,"d":"2020-01-14","v":262.81},{"s":"Gap width left","g":14,"d":"2020-01-15","v":262.62},{"s":"Gap width left","g":14,"d":"2020-01-16","v":262.48},{"s":"Gap width left","g":14,"d":"2020-01-17","v":262.55},{"s":"Gap width left","g":14,"d":"2020-01-18","v":262.62},{"s":"Gap width left","g":14,"d":"2020-01-19","v":262.94},{"s":"Gap width left","g":14,"d":"2020-01-20","v":263.26},{"s":"Gap width left","g":14,"d":"2020-01-21","v":263.52},{"s":"Gap width left","g":14,"d":"2020-01-22","v":263.69},{"s":"Gap width left","g":14,"d":"2020-01-23","v":264.01},{"s":"Gap width left","g":14,"d":"2020-01-24","v":264.43},{"s":"Gap width left","g":14,"d":"2020-01-25","v":264.82},{"s":"Gap width left","g":14,"d":"2020-01-26","v":264.98},{"s":"Gap width left","g":14,"d":"2020-01-27","v":264.66},{"s":"Gap width left","g":14,"d":"2020-01-28","v":263.91},
      {"s":"Gap width left","g":15,"d":"2020-02-28","v":262.39},{"s":"Gap width left","g":15,"d":"2020-03-01","v":262.13},{"s":"Gap width left","g":15,"d":"2020-03-03","v":262.22},{"s":"Gap width left","g":15,"d":"2020-03-05","v":261.9},{"s":"Gap width left","g":15,"d":"2020-03-07","v":261.67},{"s":"Gap width left","g":15,"d":"2020-03-09","v":261.25},{"s":"Gap width left","g":15,"d":"2020-03-11","v":261.51},{"s":"Gap width left","g":15,"d":"2020-03-13","v":261.09},{"s":"Gap width left","g":15,"d":"2020-03-15","v":260.54},{"s":"Gap width left","g":15,"d":"2020-03-17","v":260.11},{"s":"Gap width left","g":15,"d":"2020-03-19","v":259.89},{"s":"Gap width left","g":15,"d":"2020-03-21","v":260.6},{"s":"Gap width left","g":15,"d":"2020-03-23","v":261.64},{"s":"Gap width left","g":15,"d":"2020-03-25","v":261.57},{"s":"Gap width left","g":15,"d":"2020-03-27","v":261.57},{"s":"Gap width left","g":15,"d":"2020-03-29","v":260.99},{"s":"Gap width left","g":15,"d":"2020-03-31","v":261.09},{"s":"Gap width left","g":15,"d":"2020-04-02","v":261.57},{"s":"Gap width left","g":15,"d":"2020-04-04","v":261.64},{"s":"Gap width left","g":15,"d":"2020-04-06","v":260.6},{"s":"Gap width left","g":15,"d":"2020-04-08","v":259.14},{"s":"Gap width left","g":15,"d":"2020-04-10","v":258.23},{"s":"Gap width left","g":15,"d":"2020-04-12","v":258.39},{"s":"Gap width left","g":15,"d":"2020-04-14","v":258.59},{"s":"Gap width left","g":15,"d":"2020-04-16","v":257.68},{"s":"Gap width left","g":15,"d":"2020-04-18","v":257.03},{"s":"Gap width left","g":15,"d":"2020-04-20","v":256.8},{"s":"Gap width left","g":15,"d":"2020-04-22","v":256.83},{"s":"Gap width left","g":15,"d":"2020-04-24","v":257.03},{"s":"Gap width left","g":15,"d":"2020-04-26","v":257.03},{"s":"Gap width left","g":15,"d":"2020-04-28","v":257.29},{"s":"Gap width left","g":15,"d":"2020-04-30","v":256.87},{"s":"Gap width left","g":15,"d":"2020-05-02","v":257.16},{"s":"Gap width left","g":15,"d":"2020-05-04","v":257.35},{"s":"Gap width left","g":15,"d":"2020-05-06","v":257.42},{"s":"Gap width left","g":15,"d":"2020-05-08","v":257.61},{"s":"Gap width left","g":15,"d":"2020-05-10","v":257.94},{"s":"Gap width left","g":15,"d":"2020-05-12","v":258.1},{"s":"Gap width left","g":15,"d":"2020-05-14","v":257.94},{"s":"Gap width left","g":15,"d":"2020-05-16","v":257.68},{"s":"Gap width left","g":15,"d":"2020-05-18","v":257.03},{"s":"Gap width left","g":15,"d":"2020-05-20","v":256.05},{"s":"Gap width left","g":15,"d":"2020-05-22","v":255.08},{"s":"Gap width left","g":15,"d":"2020-05-24","v":255.24},{"s":"Gap width left","g":15,"d":"2020-05-26","v":255.57},{"s":"Gap width left","g":15,"d":"2020-05-28","v":255.8},{"s":"Gap width left","g":15,"d":"2020-05-30","v":255.57},{"s":"Gap width left","g":15,"d":"2020-05-31","v":255.41}
    ]
  },
  "encoding": {
    "x": {
      "field": "d", "type": "temporal", "title": null,
      "scale": {"type": "utc", "domain": [{"year": 2018, "month": 4, "date": 5, "hours": 20, "utc": true}, {"year": 2020, "month": 5, "date": 31, "hours": 5, "utc": true}]},
      "axis": {
        "labelExpr": "utcFormat(datum.value, '%b %Y')", "labelPadding": 10, "grid": true,
        "values": [
          {"year": 2018, "month": 7, "date": 1, "utc": true}, {"year": 2018, "month": 10, "date": 1, "utc": true},
          {"year": 2019, "month": 1, "date": 1, "utc": true}, {"year": 2019, "month": 4, "date": 1, "utc": true},
          {"year": 2019, "month": 7, "date": 1, "utc": true}, {"year": 2019, "month": 10, "date": 1, "utc": true},
          {"year": 2020, "month": 1, "date": 1, "utc": true}, {"year": 2020, "month": 4, "date": 1, "utc": true}
        ]
      }
    },
    "color": {
      "field": "s", "type": "nominal",
      "scale": {"domain": ["Temperature", "Gap width right", "Gap width left"], "range": ["#3F5BAA", "#EE5534", "#2DB08C"]},
      "legend": {"orient": "none", "direction": "horizontal", "legendX": 124, "legendY": 338, "title": " ", "titleOrient": "left", "titlePadding": 21}
    },
    "detail": {"field": "g", "type": "nominal"}
  },
  "layer": [
    {
      "data": {"name": "gap"},
      "mark": {"type": "line", "strokeWidth": 2.6, "strokeJoin": "round", "clip": true},
      "encoding": {
        "y": {
          "field": "v", "type": "quantitative", "title": "Gap width in mm",
          "scale": {"domain": [242.76, 270.34], "nice": false, "zero": false},
          "axis": {"orient": "left", "values": [245, 250, 255, 260, 265, 270], "labelPadding": 11, "titlePadding": 17, "grid": true}
        }
      }
    },
    {
      "data": {"name": "temp"},
      "mark": {"type": "line", "strokeWidth": 2.6, "strokeJoin": "round", "clip": true},
      "encoding": {
        "y": {
          "field": "v", "type": "quantitative", "title": "Temperature in °C",
          "scale": {"domain": [-37.9, 32.75], "nice": false, "zero": false},
          "axis": {"orient": "right", "values": [-20, 0, 20], "labelExpr": "datum.value < 0 ? '-' + abs(datum.value) : '' + datum.value", "labelPadding": 9, "titlePadding": 45, "titleAngle": -90, "grid": true}
        }
      }
    }
  ],
  "resolve": {"scale": {"y": "independent"}}
}
